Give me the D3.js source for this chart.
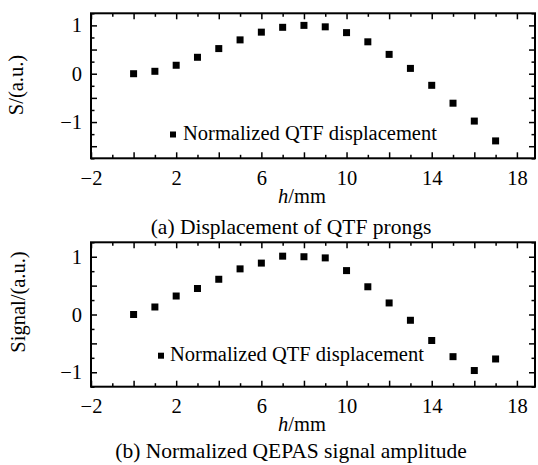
<!DOCTYPE html>
<html>
<head>
<meta charset="utf-8">
<script src="https://cdn.jsdelivr.net/npm/d3@7"></script>
<style>
  body { margin: 0; background: #fff; }
  svg { display: block; }
  .frame { fill: none; stroke: #000; stroke-width: 2; }
  .ticks line { stroke: #000; stroke-width: 1.5; }
  .ticks .domain { display: none; }
  .labels line, .labels .domain { display: none; }
</style>
</head>
<body>
<div id="chart"></div>
<script>
// Data
const hValues = [0, 1, 2, 3, 4, 5, 6, 7, 8, 9, 10, 11, 12, 13, 14, 15, 16, 17]
const displacement = [0, 0.05, 0.175, 0.34, 0.52, 0.70, 0.86, 0.96, 1.0, 0.97, 0.85, 0.66, 0.40, 0.11, -0.24, -0.61, -0.98, -1.39]
const signal = [0, 0.13, 0.32, 0.45, 0.61, 0.79, 0.89, 1.01, 1.0, 0.98, 0.76, 0.48, 0.20, -0.10, -0.45, -0.73, -0.97, -0.77]
const xLabels = [-2, 2, 6, 10, 14, 18]
const yLabels = [-1, 0, 1]
const legendText = "Normalized QTF displacement"

// Dimensions
const width = 538
const height = 465
const xDomain = [-2, 18.85]
const plotLeft = 91
const plotRight = 535
const majorTick = 6
const minorTick = 3.5
const markerSize = 7
const serif = "'Liberation Serif', 'Times New Roman', serif"
const fontSize = "20.5px"

const svg = d3.select("#chart")
  .append("svg")
    .attr("width", width)
    .attr("height", height)

const xScale = d3.scaleLinear()
    .domain(xDomain)
    .range([plotLeft, plotRight])

const panels = [
  {
    values: displacement, top: 13.3, bottom: 158.3, yDomain: [-1.75, 1.25],
    yTitle: "S/(a.u.)", yTitleX: 23, yTitleY: 85,
    legend: {x: 173, y: 134.5, textX: 183, textY: 139.5},
    xTitleY: 203, caption: "(a) Displacement of QTF prongs", captionY: 234
  },
  {
    values: signal, top: 242.3, bottom: 386.7, yDomain: [-1.25, 1.25],
    yTitle: "Signal/(a.u.)", yTitleX: 25, yTitleY: 302,
    legend: {x: 161, y: 355.7, textX: 170, textY: 360.7},
    xTitleY: 431, caption: "(b) Normalized QEPAS signal amplitude", captionY: 458
  }
]

function range(start, stop, step) {
  const out = []
  for (let v = start; v <= stop + 1e-9; v += step) out.push(+v.toFixed(4))
  return out
}

function minusFormat(d) {
  return d < 0 ? "\u2212" + Math.abs(d) : d
}

function addText(g, x, y, str, size) {
  return g.append("text")
    .attr("x", x)
    .attr("y", y)
    .attr("font-family", serif)
    .attr("font-size", size || fontSize)
    .attr("fill", "#000")
    .text(str)
}

function drawPanel(p) {
  const yScale = d3.scaleLinear()
      .domain(p.yDomain)
      .range([p.bottom, p.top])

  const g = svg.append("g")

  const xMinor = range(-2, 18, 1).filter(function(d) { return d % 2 !== 0 })
  const xMajor = range(-2, 18, 2)
  const yMinor = range(-1.75, 1.25, 0.25).filter(function(d) { return Math.abs(d * 2 - Math.round(d * 2)) > 1e-6 })
  const yMajor = range(-1.5, 1, 0.5)

  // Inward ticks on all four sides
  const tickSets = [
    [d3.axisBottom(xScale), p.bottom, "x", xMinor, minorTick],
    [d3.axisBottom(xScale), p.bottom, "x", xMajor, majorTick],
    [d3.axisTop(xScale), p.top, "x", xMinor, minorTick],
    [d3.axisTop(xScale), p.top, "x", xMajor, majorTick],
    [d3.axisLeft(yScale), plotLeft, "y", yMinor, minorTick],
    [d3.axisLeft(yScale), plotLeft, "y", yMajor, majorTick],
    [d3.axisRight(yScale), plotRight, "y", yMinor, minorTick],
    [d3.axisRight(yScale), plotRight, "y", yMajor, majorTick]
  ]
  tickSets.forEach(function(t) {
    const vals = t[2] === "y"
      ? t[3].filter(function(d) { return d >= p.yDomain[0] && d <= p.yDomain[1] })
      : t[3]
    g.append("g")
      .attr("class", "ticks")
      .attr("transform", t[2] === "x" ? `translate(0,${t[1]})` : `translate(${t[1]},0)`)
      .call(t[0].tickValues(vals).tickSizeInner(-t[4]).tickSizeOuter(0).tickFormat(""))
  })

  // Tick labels
  g.append("g")
    .attr("class", "labels")
    .attr("transform", `translate(0,${p.bottom})`)
    .call(d3.axisBottom(xScale)
      .tickValues(xLabels)
      .tickSize(0)
      .tickPadding(12)
      .tickFormat(minusFormat))
    .attr("font-family", serif)
    .attr("font-size", fontSize)
    .selectAll("text").attr("fill", "#000")

  g.append("g")
    .attr("class", "labels")
    .attr("transform", `translate(${plotLeft},0)`)
    .call(d3.axisLeft(yScale)
      .tickValues(yLabels)
      .tickSize(0)
      .tickPadding(9)
      .tickFormat(minusFormat))
    .attr("font-family", serif)
    .attr("font-size", fontSize)
    .selectAll("text").attr("fill", "#000")

  // Frame
  g.append("rect")
    .attr("class", "frame")
    .attr("x", plotLeft)
    .attr("y", p.top)
    .attr("width", plotRight - plotLeft)
    .attr("height", p.bottom - p.top)

  // Data points
  g.selectAll(".pt")
    .data(hValues)
    .enter().append("rect")
      .attr("class", "pt")
      .attr("x", function(d) { return xScale(d) - markerSize / 2 })
      .attr("y", function(d, i) { return yScale(p.values[i]) - markerSize / 2 })
      .attr("width", markerSize)
      .attr("height", markerSize)
      .attr("fill", "#000")

  // Legend
  g.append("rect")
    .attr("x", p.legend.x - 3)
    .attr("y", p.legend.y - 3)
    .attr("width", 6)
    .attr("height", 6)
    .attr("fill", "#000")
  addText(g, p.legend.textX, p.legend.textY, legendText)

  // Axis titles
  addText(g, 0, 0, p.yTitle)
    .attr("transform", `translate(${p.yTitleX},${p.yTitleY}) rotate(-90)`)
    .attr("text-anchor", "middle")

  const xt = addText(g, 302, p.xTitleY, null)
    .attr("text-anchor", "middle")
  xt.append("tspan").attr("font-style", "italic").text("h")
  xt.append("tspan").text("/mm")

  addText(g, 291, p.captionY, p.caption, "21.5px")
    .attr("text-anchor", "middle")
}

panels.forEach(drawPanel)
</script>
</body>
</html>
